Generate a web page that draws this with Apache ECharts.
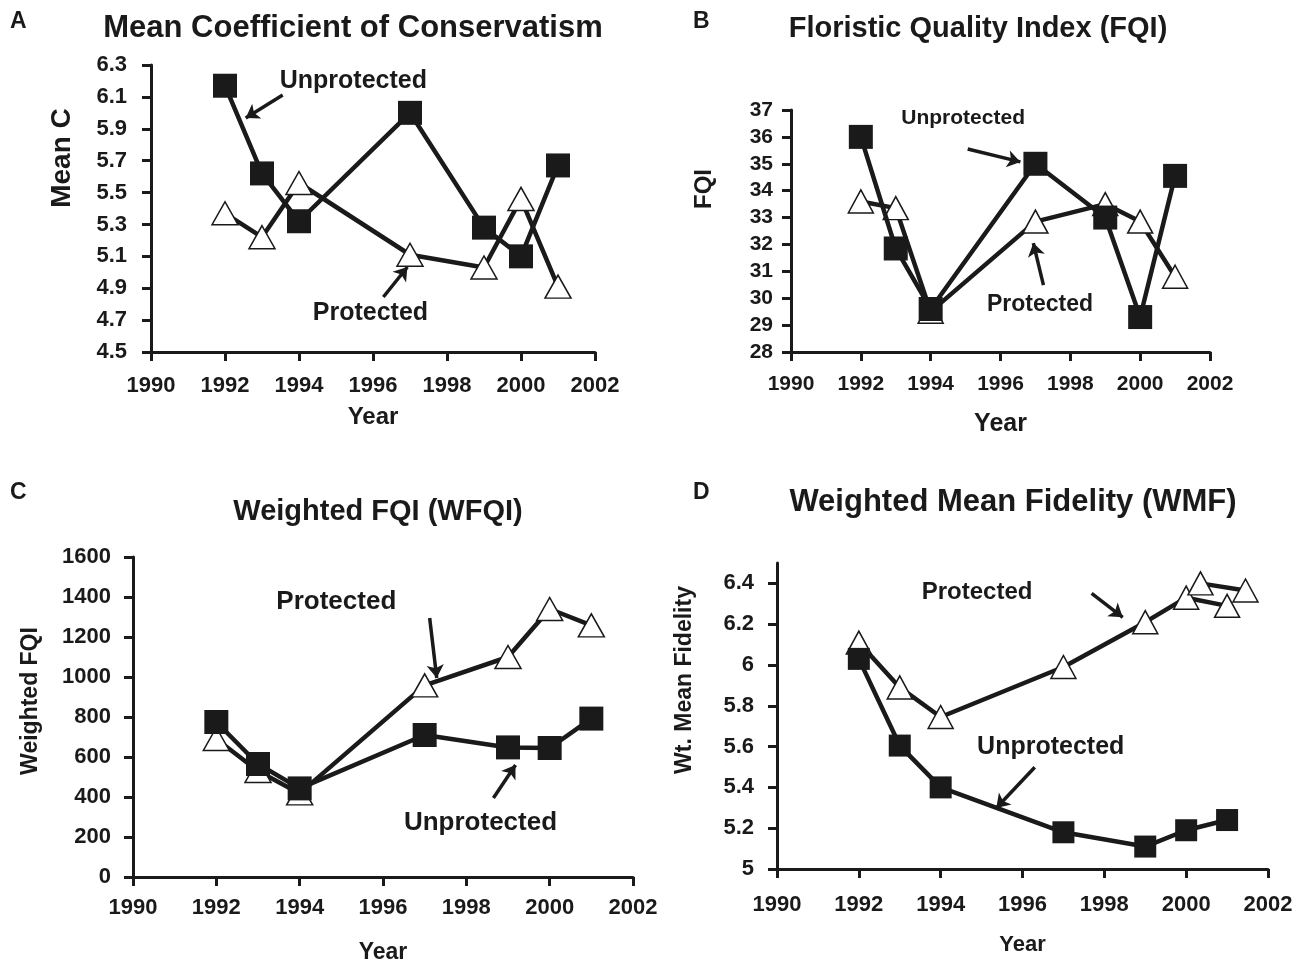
<!DOCTYPE html>
<html>
<head>
<meta charset="utf-8">
<script src="https://cdn.jsdelivr.net/npm/echarts@6/dist/echarts.min.js"></script>
<style>
  html, body { margin: 0; padding: 0; background: #fff; }
  #chart { width: 1299px; height: 965px; }
</style>
</head>
<body>
<div id="chart"></div>
<script>
// survey years
var years = [1992, 1993, 1994, 1997, 1999, 2000, 2001];

// A - mean C
var meanCUnprot = [6.17, 5.62, 5.32, 6.0, 5.28, 5.10, 5.67];
var meanCProt   = [5.37, 5.22, 5.56, 5.11, 5.03, 5.46, 4.91];
// B - FQI
var fqiUnprot = [36.0, 31.85, 29.6, 35.0, 33.0, 29.3, 34.55];
var fqiProt   = [33.6, 33.35, 29.5, 32.85, 33.5, 32.85, 30.8];
// C - weighted FQI
var wfqiUnprot = [775, 565, 443, 710, 648, 645, 792];
var wfqiProt   = [690, 530, 418, 958, 1100, 1340, 1258];
// D - weighted mean fidelity
var wmfUnprot = [6.03, 5.605, 5.40, 5.18, 5.11, 5.19, 5.24];
var wmfProt   = [6.11, 5.89, 5.745, 5.99, 6.21, 6.33, 6.29];
var wmfProtExtraYears = [2000.35, 2001.45];
var wmfProtExtra      = [6.40, 6.365];

// tick labels
var yearTicks = [1990, 1992, 1994, 1996, 1998, 2000, 2002];
var meanCTicks = [4.5, 4.7, 4.9, 5.1, 5.3, 5.5, 5.7, 5.9, 6.1, 6.3];
var fqiTicks = [28, 29, 30, 31, 32, 33, 34, 35, 36, 37];
var wfqiTicks = [0, 200, 400, 600, 800, 1000, 1200, 1400, 1600];
var wmfTicks = [5, 5.2, 5.4, 5.6, 5.8, 6, 6.2, 6.4];

var INK = '#1a1a1a';
var FONT = 'Liberation Sans';

function pairs(xs, ys) {
    return xs.map(function(x, i) { return [x, ys[i]]; });
}

function xAxisFor(idx, fs, margin, nameSize, nameGap) {
    return {
        gridIndex: idx, type: 'value', min: 1990, max: 2002, interval: 2,
        name: 'Year', nameLocation: 'middle', nameGap: nameGap,
        nameTextStyle: { color: INK, fontFamily: FONT, fontWeight: 'bold', fontSize: nameSize },
        axisLine: { lineStyle: { color: INK, width: 3 } },
        axisTick: { length: 9, customValues: yearTicks, lineStyle: { color: INK, width: 3 } },
        axisLabel: { color: INK, fontFamily: FONT, fontWeight: 'bold', fontSize: fs, margin: margin,
            customValues: yearTicks, formatter: function(v) { return String(v); } },
        splitLine: { show: false }
    };
}

function yAxisFor(idx, min, max, ticks, fs, margin, fmt) {
    return {
        gridIndex: idx, type: 'value', min: min, max: max,
        axisLine: { show: true, lineStyle: { color: INK, width: 3 } },
        axisTick: { show: true, length: 9, customValues: ticks, lineStyle: { color: INK, width: 3 } },
        axisLabel: { color: INK, fontFamily: FONT, fontWeight: 'bold', fontSize: fs, margin: margin,
            customValues: ticks, formatter: fmt || function(v) { return String(v); } },
        splitLine: { show: false }
    };
}

function arrows(list) {
    return {
        silent: true, symbol: ['none', 'arrow'], symbolSize: 13, animation: false,
        label: { show: false },
        lineStyle: { color: INK, width: 3.5, type: 'solid' },
        emphasis: { disabled: true },
        data: list.map(function(a) { return [{ coord: a[0] }, { coord: a[1] }]; })
    };
}

function notes(list) {
    return {
        silent: true, animation: false, symbolSize: 0,
        label: { show: true, position: 'inside', color: INK, fontFamily: FONT, fontWeight: 'bold',
            formatter: function(p) { return p.name; } },
        data: list.map(function(n) {
            return { name: n[0], coord: n[1], label: { fontSize: n[2] } };
        })
    };
}

function protSeries(idx, data, size, extra) {
    var s = {
        name: 'Protected', type: 'line', xAxisIndex: idx, yAxisIndex: idx,
        data: data, symbol: 'triangle', symbolSize: size, showAllSymbol: true,
        lineStyle: { color: INK, width: 4.5 },
        itemStyle: { color: '#fff', borderColor: INK, borderWidth: 1.5 },
        emphasis: { disabled: true }, animation: false, z: 2
    };
    for (var k in extra) s[k] = extra[k];
    return s;
}

function unprotSeries(idx, data, size) {
    return {
        name: 'Unprotected', type: 'line', xAxisIndex: idx, yAxisIndex: idx,
        data: data, symbol: 'rect', symbolSize: size, showAllSymbol: true,
        lineStyle: { color: INK, width: 4.5 },
        itemStyle: { color: INK },
        emphasis: { disabled: true }, animation: false, z: 3
    };
}

function vname(text, x, y, size) {
    return { type: 'text', x: x, y: y, rotation: Math.PI / 2,
        style: { text: text, font: 'bold ' + size + 'px "Liberation Sans"', fill: INK,
            align: 'center', verticalAlign: 'middle' } };
}

function letter(text, x, y) {
    return { type: 'text', left: x, top: y,
        style: { text: text, font: 'bold 23px "Liberation Sans"', fill: INK } };
}

function titleAt(text, x, y, size) {
    return { text: text, left: x, top: y, textAlign: 'center',
        textStyle: { fontFamily: FONT, fontWeight: 'bold', fontSize: size, color: INK } };
}

var option = {
    backgroundColor: '#fff',
    animation: false,
    title: [
        titleAt('Mean Coefficient of Conservatism', 348, 8, 31),
        titleAt('Floristic Quality Index (FQI)', 973, 9, 29),
        titleAt('Weighted FQI (WFQI)', 373, 492, 29),
        titleAt('Weighted Mean Fidelity (WMF)', 1008, 482, 31)
    ],
    grid: [
        { left: 151, top: 65, width: 444, height: 287, outerBoundsMode: 'none' },
        { left: 791, top: 110, width: 419, height: 242, outerBoundsMode: 'none' },
        { left: 133, top: 557, width: 500, height: 320, outerBoundsMode: 'none' },
        { left: 777, top: 563, width: 491, height: 306, outerBoundsMode: 'none' }
    ],
    xAxis: [
        xAxisFor(0, 22, 23, 24, 53),
        xAxisFor(1, 21, 22, 25, 60),
        xAxisFor(2, 22, 20, 23, 64),
        xAxisFor(3, 22, 25, 22, 65)
    ],
    yAxis: [
        yAxisFor(0, 4.5, 6.3, meanCTicks, 22, 24, function(v) { return v.toFixed(1); }),
        yAxisFor(1, 28, 37, fqiTicks, 21, 18),
        yAxisFor(2, 0, 1600, wfqiTicks, 22, 22),
        yAxisFor(3, 5, 6.5, wmfTicks, 22, 23)
    ],
    graphic: [
        letter('A', 10, 10),
        letter('B', 693, 10),
        letter('C', 10, 481),
        letter('D', 693, 481),
        vname('Mean C', 62, 158, 28),
        vname('FQI', 704, 189, 24),
        vname('Weighted FQI', 31, 701, 23),
        vname('Wt. Mean Fidelity', 685, 680, 23)
    ],
    series: [
        protSeries(0, pairs(years, meanCProt), [26, 23], {
            markLine: arrows([[[1993.56, 6.112], [1992.56, 5.968]], [[1996.28, 4.845], [1996.93, 5.033]]]),
            markPoint: notes([['Unprotected', [1995.47, 6.2], 25], ['Protected', [1995.93, 4.744], 25]])
        }),
        unprotSeries(0, pairs(years, meanCUnprot), 24),

        protSeries(1, pairs(years, fqiProt), [25, 23], {
            markLine: arrows([[[1995.06, 35.55], [1996.57, 35.07]], [[1997.23, 30.49], [1996.94, 32.05]]]),
            markPoint: notes([['Unprotected', [1994.93, 36.7], 21], ['Protected', [1997.13, 29.75], 23]])
        }),
        unprotSeries(1, pairs(years, fqiUnprot), 24),

        protSeries(2, pairs(years, wfqiProt), [26, 23], {
            markLine: arrows([[[1997.12, 1295], [1997.29, 995]], [[1998.65, 395], [1999.18, 560]]]),
            markPoint: notes([['Protected', [1994.88, 1375], 26], ['Unprotected', [1998.34, 270], 26]])
        }),
        unprotSeries(2, pairs(years, wfqiUnprot), 24),

        protSeries(3, pairs(years, wmfProt), [25, 23], {
            markLine: arrows([[[1997.69, 6.351], [1998.45, 6.234]], [[1996.30, 5.499], [1995.36, 5.299]]]),
            markPoint: notes([['Protected', [1994.89, 6.356], 24], ['Unprotected', [1996.69, 5.597], 25]])
        }),
        protSeries(3, pairs(wmfProtExtraYears, wmfProtExtra), [25, 23], {}),
        unprotSeries(3, pairs(years, wmfUnprot), 22)
    ]
};

var chart = echarts.init(document.getElementById('chart'));
chart.setOption(option);
</script>
</body>
</html>
